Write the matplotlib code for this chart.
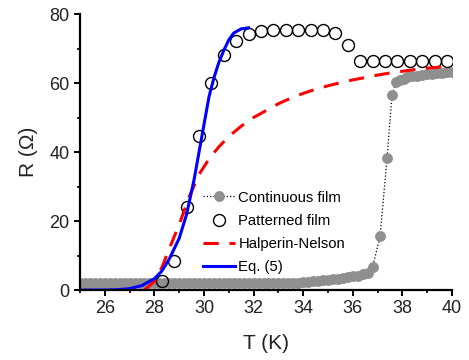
import matplotlib.pyplot as plt
from matplotlib.ticker import MultipleLocator

plt.rcParams['font.family'] = ['Liberation Sans', 'DejaVu Sans']

# continuous film (gray dots)
T_cont = [25.0, 25.2, 25.4, 25.6, 25.8, 26.0, 26.2, 26.4, 26.6, 26.8,
          27.0, 27.2, 27.4, 27.6, 27.8, 28.0, 28.2, 28.4, 28.6, 28.8,
          29.0, 29.2, 29.4, 29.6, 29.8, 30.0, 30.2, 30.4, 30.6, 30.8,
          31.0, 31.2, 31.4, 31.6, 31.8, 32.0, 32.2, 32.4, 32.6, 32.8,
          33.0, 33.2, 33.4, 33.6, 33.8, 34.0, 34.2, 34.4, 34.6, 34.8,
          35.0, 35.2, 35.4, 35.6, 35.8, 36.0, 36.2, 36.4, 36.6, 36.8,
          37.1, 37.38, 37.58, 37.75, 37.9, 38.05, 38.2, 38.4, 38.6, 38.8,
          39.0, 39.2, 39.4, 39.6, 39.8, 40.0]
R_cont = [1.9, 1.9, 1.9, 1.9, 1.9, 1.9, 1.9, 1.9, 1.9, 1.9,
          1.9, 1.9, 1.9, 1.9, 1.9, 1.9, 1.9, 1.9, 1.9, 1.9,
          1.9, 1.9, 1.9, 1.9, 1.9, 1.9, 1.9, 1.9, 1.9, 1.9,
          1.9, 1.9, 1.9, 1.9, 1.9, 1.9, 1.9, 1.9, 1.9, 1.9,
          1.9, 1.95, 2.0, 2.05, 2.1, 2.2, 2.35, 2.5, 2.65, 2.8,
          3.0, 3.15, 3.3, 3.5, 3.7, 3.95, 4.2, 4.5, 5.0, 6.7,
          15.6, 38.3, 56.5, 60.2, 60.9, 61.3, 61.6, 61.9, 62.1, 62.3,
          62.5, 62.7, 62.9, 63.0, 63.1, 63.2]

# patterned film (open circles)
T_pat = [28.3, 28.8, 29.3, 29.8, 30.3, 30.8, 31.3, 31.8, 32.3, 32.8,
         33.3, 33.8, 34.3, 34.8, 35.3, 35.8, 36.3, 36.8, 37.3, 37.8,
         38.3, 38.8, 39.3, 39.8]
R_pat = [2.5, 8.5, 24, 44.5, 60, 68, 72.3, 74.2, 75, 75.4,
         75.4, 75.4, 75.4, 75.3, 74.5, 71, 66.4, 66.4, 66.4, 66.4,
         66.4, 66.4, 66.4, 66.4]

# Halperin-Nelson (red dashed)
T_hn = [27.6, 28.0, 28.3, 28.6, 29.0, 29.4, 29.8, 30.2, 30.6, 31.0, 31.5,
        32.0, 32.5, 33.0, 33.5, 34.0, 34.5, 35.0, 35.5, 36.0, 36.5, 37.0,
        37.5, 38.0, 38.5, 39.0, 39.5, 40.0]
R_hn = [0, 2.5, 6.5, 12, 19, 27, 33.5, 38, 41.5, 44.5, 47.5,
        50, 52, 54, 55.6, 57, 58.2, 59.2, 60.1, 60.9, 61.6, 62.3,
        62.9, 63.4, 63.9, 64.3, 64.6, 64.9]

# Eq. (5) (blue)
T_eq = [25.0, 26.0, 26.5, 27.0, 27.5, 28.0, 28.3, 28.6, 29.0, 29.3, 29.6,
        29.9, 30.2, 30.4, 30.6, 30.8, 31.0, 31.2, 31.5, 31.8]
R_eq = [0, 0.02, 0.1, 0.4, 1.3, 3.3, 5.5, 9, 15, 22, 32,
        44, 56, 61.5, 66, 69.5, 72.5, 74.5, 75.7, 76]

fig = plt.figure(figsize=(4.69, 3.6), dpi=100)
ax = fig.add_axes([0.1706, 0.1944, 0.7932, 0.7667])

ax.plot(T_cont, R_cont, ':', color='black', lw=0.9, marker='o', ms=6.8,
        mfc='#8f8f8f', mec='#8f8f8f', label='Continuous film')
ax.plot(T_pat, R_pat, 'o', ms=8.6, mfc='none', mec='black', mew=1.0,
        label='Patterned film')
ax.plot(T_hn, R_hn, color='red', lw=2.2, dashes=(5, 3.5),
        label='Halperin-Nelson')
ax.plot(T_eq, R_eq, color='blue', lw=2.2, label='Eq. (5)')

ax.set_xlim(25, 40)
ax.set_ylim(0, 80)
ax.xaxis.set_major_locator(MultipleLocator(2))
ax.xaxis.set_minor_locator(MultipleLocator(1))
ax.yaxis.set_major_locator(MultipleLocator(20))
ax.yaxis.set_minor_locator(MultipleLocator(10))
ax.set_xticks([26, 28, 30, 32, 34, 36, 38, 40])

for s in ['top', 'right']:
    ax.spines[s].set_visible(False)
for s in ['left', 'bottom']:
    ax.spines[s].set_linewidth(1.6)
ax.tick_params(which='major', direction='out', length=4, width=1.4,
               labelsize=13, colors='black', labelcolor='#222222')
ax.tick_params(which='minor', direction='out', length=2.5, width=1.2)

ax.set_xlabel('T (K)', fontsize=15, color='#222222', labelpad=12)
ax.set_ylabel('R (Ω)', fontsize=15, color='#222222', labelpad=8)

ax.legend(loc='upper left', bbox_to_anchor=(0.33, 0.36), frameon=False,
          fontsize=10.7, handlelength=2.2, handletextpad=0.2,
          labelspacing=0.62, borderpad=0, borderaxespad=0)

plt.savefig('out.png', dpi=100)
